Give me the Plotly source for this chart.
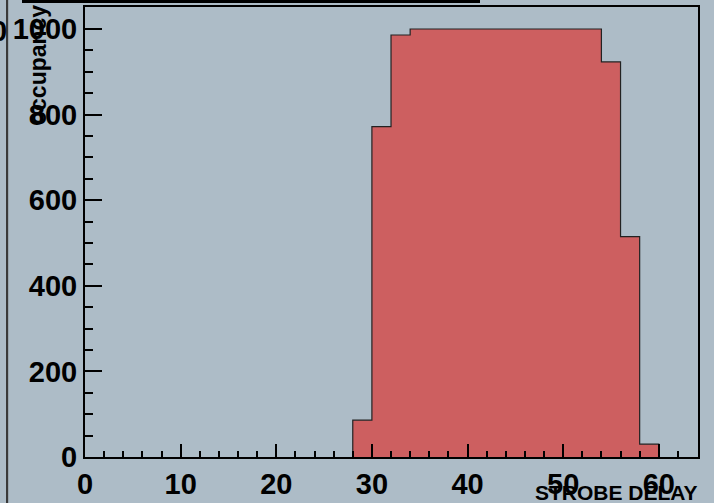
import plotly.graph_objects as go

# Histogram data (bin width 2)
bin_low_edges = [28, 30, 32, 34, 36, 38, 40, 42, 44, 46, 48, 50, 52, 54, 56, 58]
counts = [86, 772, 986, 1000, 1000, 1000, 1000, 1000, 1000, 1000, 1000, 1000, 1000, 923, 515, 30]
bin_width = 2
x_title = "STROBE DELAY"
y_title = "occupancy"
x_tickvals = [0, 10, 20, 30, 40, 50, 60]
y_tickvals = [0, 200, 400, 600, 800, 1000]

BG = "#ADBCC7"
FILL = "#CD5F60"
FONT = "Liberation Sans, Arial, sans-serif"

# step outline built from the bins
xs = [bin_low_edges[0]] + bin_low_edges + [bin_low_edges[-1] + bin_width, bin_low_edges[-1] + bin_width]
ys = [0] + counts + [counts[-1], 0]

fig = go.Figure()
fig.add_trace(go.Scatter(
    x=xs, y=ys, mode="lines", line=dict(shape="hv", color="#222222", width=1.2),
    fill="tozeroy", fillcolor=FILL, hoverinfo="skip", showlegend=False,
))

W, H = 714, 503
L, R, T, B = 85, 16, 7, 46
pw, ph = W - L - R, H - T - B

def px(xp):
    return (xp - L) / pw

def py(yp):
    return (H - B - yp) / ph

fig.update_layout(
    width=W, height=H,
    margin=dict(l=L, r=R, t=T, b=B, pad=0),
    paper_bgcolor=BG, plot_bgcolor=BG,
    font=dict(family=FONT, color="black"),
    showlegend=False,
    xaxis=dict(
        range=[0, 64.1], tickvals=x_tickvals, ticktext=[str(v) for v in x_tickvals],
        ticks="inside", ticklen=13, tickwidth=2, tickcolor="black",
        minor=dict(dtick=2, ticks="inside", ticklen=6, tickwidth=1.5, tickcolor="black"),
        showline=True, linecolor="black", linewidth=2, mirror=True,
        showgrid=False, zeroline=False, automargin=False,
        tickfont=dict(size=29, family=FONT, weight="bold"),
    ),
    yaxis=dict(
        range=[0, 1051.4], tickvals=y_tickvals, ticktext=[str(v) for v in y_tickvals],
        ticks="inside", ticklen=17, tickwidth=2, tickcolor="black",
        minor=dict(dtick=50, ticks="inside", ticklen=8, tickwidth=1.5, tickcolor="black"),
        showline=True, linecolor="black", linewidth=2, mirror=True,
        showgrid=False, zeroline=False, automargin=False,
        tickfont=dict(size=29, family=FONT, weight="bold"),
    ),
    annotations=[
        dict(text=x_title, xref="paper", yref="paper", x=px(700), y=py(492),
             xanchor="right", yanchor="middle", showarrow=False,
             font=dict(size=21, family=FONT, weight="bold")),
        dict(text=y_title, xref="paper", yref="paper", x=px(38), y=py(3),
             xanchor="center", yanchor="top", textangle=-90, showarrow=False,
             font=dict(size=23, family=FONT, weight="bold")),
        dict(text="0", xref="paper", yref="paper", x=px(9), y=py(31),
             xanchor="right", yanchor="middle", showarrow=False,
             font=dict(size=29, family=FONT, weight="bold")),
    ],
    shapes=[
        dict(type="rect", xref="paper", yref="paper", x0=px(22), x1=px(480), y0=py(3), y1=py(-5),
             fillcolor="black", line=dict(width=0)),
        dict(type="line", xref="paper", yref="paper", x0=px(7), x1=px(7), y0=py(-5), y1=py(510),
             line=dict(color="#3a3a3a", width=2)),
        dict(type="line", xref="paper", yref="paper", x0=px(8.5), x1=px(8.5), y0=py(-5), y1=py(510),
             line=dict(color="#9aa6ae", width=1)),
    ],
)

fig.write_html("out.html", config={"displayModeBar": False},
               post_script="document.body.style.margin='0';document.body.style.padding='0';")
